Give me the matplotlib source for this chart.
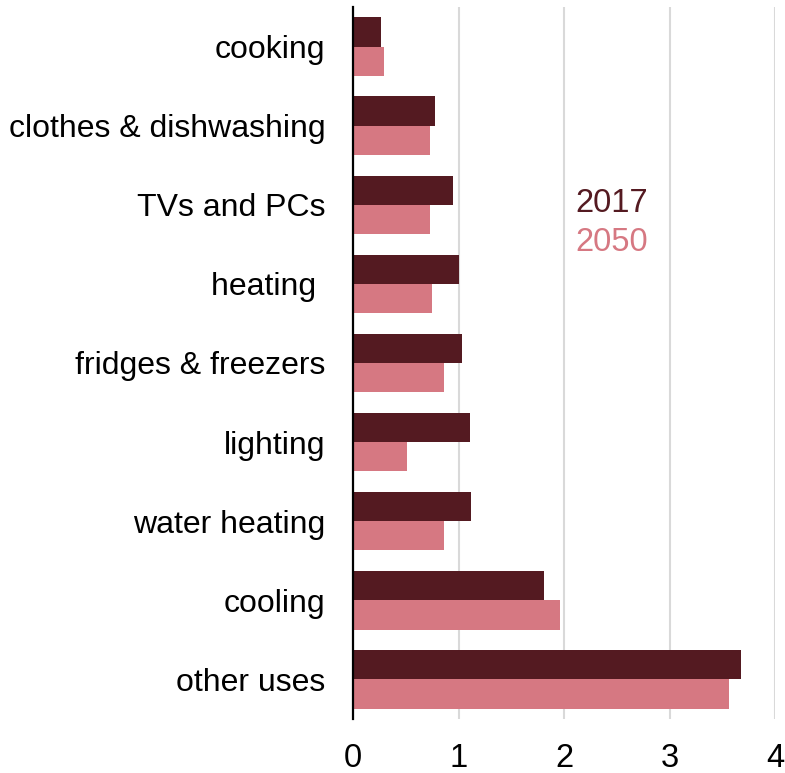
import matplotlib.pyplot as plt
import numpy as np

plt.rcParams['font.family'] = ['Liberation Sans', 'DejaVu Sans']

categories = ['cooking', 'clothes & dishwashing', 'TVs and PCs', 'heating ',
              'fridges & freezers', 'lighting', 'water heating', 'cooling', 'other uses']
v2017 = [0.27, 0.78, 0.95, 1.00, 1.03, 1.11, 1.12, 1.81, 3.68]
v2050 = [0.29, 0.73, 0.73, 0.75, 0.86, 0.51, 0.86, 1.96, 3.56]

c2017 = '#541a21'
c2050 = '#d67882'

y = np.arange(len(categories))
h = 0.37

fig = plt.figure(figsize=(7.85, 7.73), dpi=100)
ax = fig.add_axes([353/785, 1 - 719/773, (775 - 353)/785, (719 - 7)/773])

ax.barh(y - h/2, v2017, h, color=c2017, zorder=3)
ax.barh(y + h/2, v2050, h, color=c2050, zorder=3)

ax.set_xlim(0, 4)
ax.set_ylim(len(categories) - 0.5, -0.5)
ax.set_yticks(y)
ax.set_yticklabels(categories, fontsize=23)
ax.set_xticks([0, 1, 2, 3, 4])
ax.set_xticklabels(['0', '1', '2', '3', '4'], fontsize=23.5)
ax.tick_params(axis='y', length=0, pad=20)
ax.tick_params(axis='x', length=0, pad=17)

ax.grid(axis='x', color='#d9d9d9', linewidth=1.5, zorder=0)
for s in ['top', 'right', 'bottom']:
    ax.spines[s].set_visible(False)
ax.spines['left'].set_linewidth(1.6)
ax.spines['left'].set_zorder(4)

# legend as coloured text
tr = ax.get_xaxis_transform()
ax.text(2.11, 0.7245, '2017', color=c2017, fontsize=23.5, va='center', ha='left', transform=tr)
ax.text(2.11, 0.6695, '2050', color=c2050, fontsize=23.5, va='center', ha='left', transform=tr)

plt.savefig('out.png', dpi=100)
